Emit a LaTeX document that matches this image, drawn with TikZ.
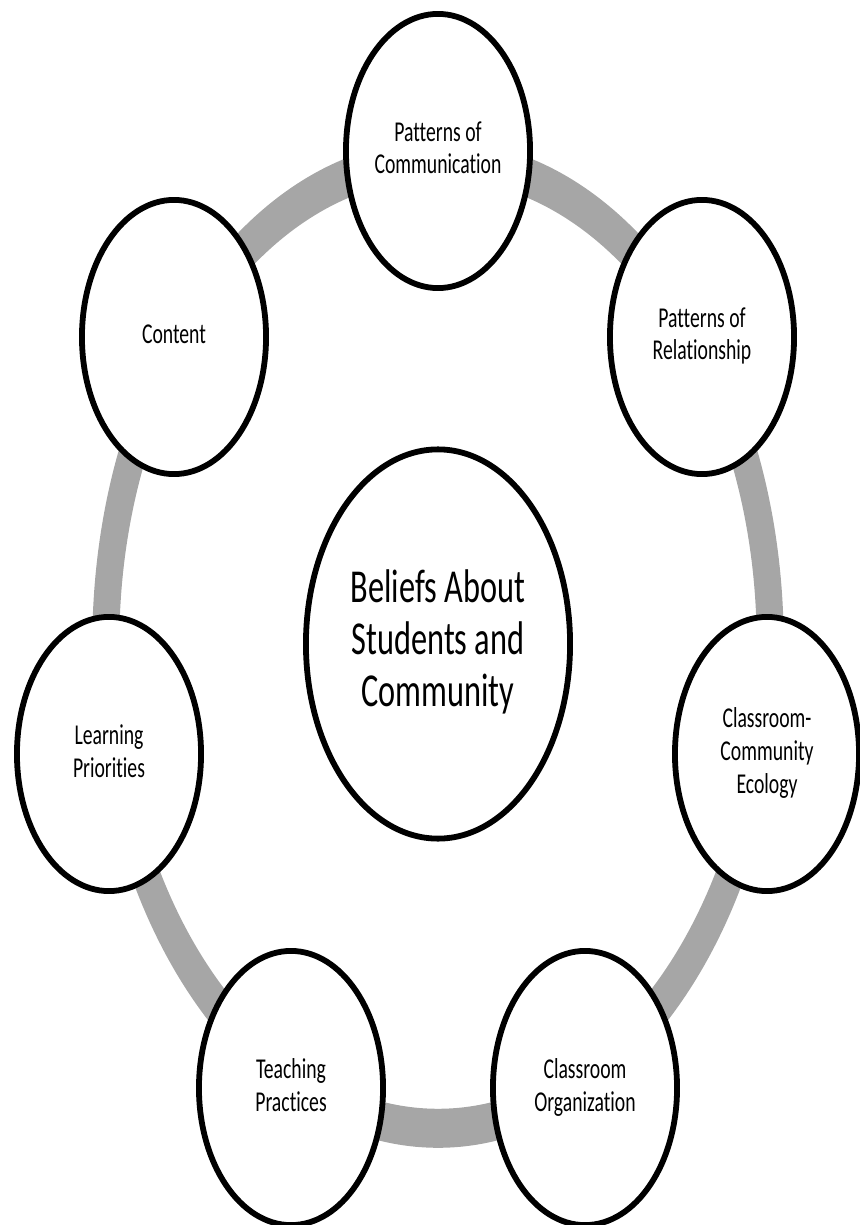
\documentclass[tikz,border=0pt]{standalone}
\usepackage{fontspec}
\setmainfont{Carlito}[Ligatures=NoCommon]
\usetikzlibrary{shapes}
\definecolor{ringgray}{RGB}{166,166,166}
\newcommand{\stretched}[1]{\scalebox{1}[1.46]{\begin{tabular}{@{}c@{}}#1\end{tabular}}}

\begin{document}
\begin{tikzpicture}[x=0.01cm, y=-0.01cm,
	bubble/.style={draw, line width=0.058cm, fill=white, ellipse, inner sep=0pt,
		minimum width=1.84cm, minimum height=2.74cm, font=\fontsize{5.6}{6.4}\selectfont},
	core/.style={bubble, minimum width=2.64cm, minimum height=3.89cm,
		font=\fontsize{9.2}{10.1}\selectfont}]
	\useasboundingbox (0,0) rectangle (859,1225);

	% the ring behind the bubbles
	\fill[ringgray, even odd rule] (438,644) ellipse [x radius=3.455cm, y radius=5.035cm]
		(438,644) ellipse [x radius=3.185cm, y radius=4.645cm];

	\node[core] (beliefs) at (438,644) {\stretched{Beliefs About\\Students and\\Community}};

	\node[bubble] (communication) at (438,151) {\stretched{Patterns of\\Communication}};
	\node[bubble] (relationship) at (702,337) {\stretched{Patterns of\\Relationship}};
	\node[bubble] (ecology) at (767,754) {\stretched{Classroom-\\Community\\Ecology}};
	\node[bubble] (organization) at (585,1088) {\stretched{Classroom\\Organization}};
	\node[bubble] (practices) at (291,1088) {\stretched{Teaching\\Practices}};
	\node[bubble] (priorities) at (109,754) {\stretched{Learning\\Priorities}};
	\node[bubble] (content) at (174,337) {\stretched{Content}};
\end{tikzpicture}
\end{document}
